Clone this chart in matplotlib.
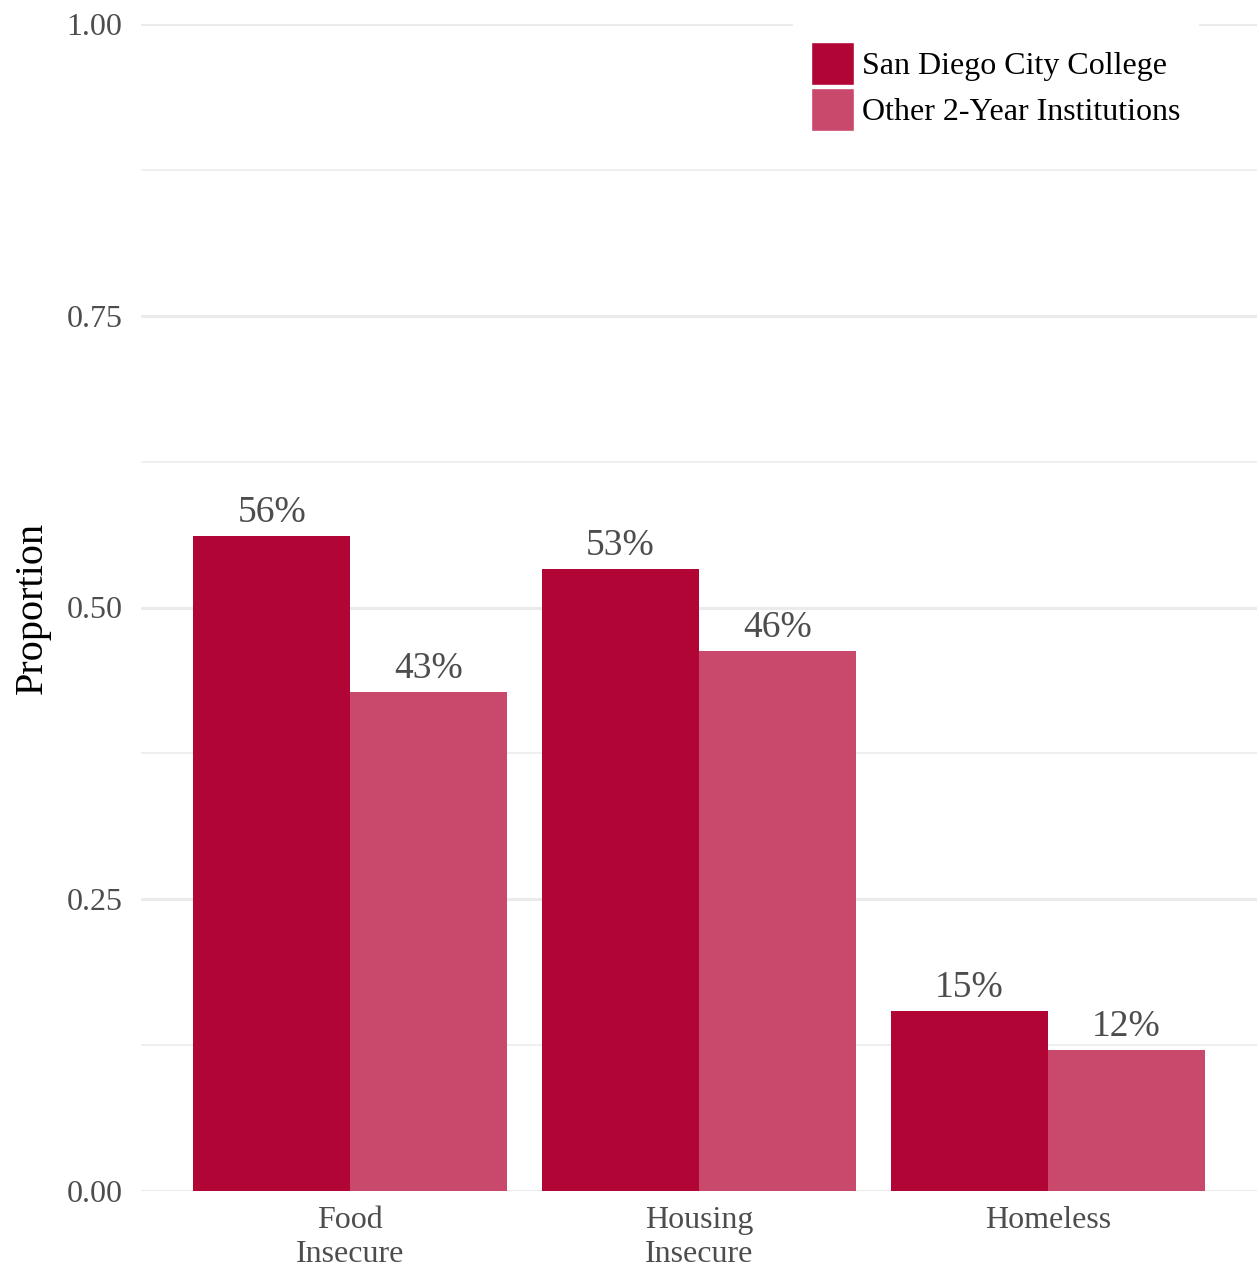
import matplotlib
matplotlib.use("Agg")
import matplotlib.pyplot as plt
import numpy as np
from matplotlib.patches import Patch

categories = ["Food\nInsecure", "Housing\nInsecure", "Homeless"]
series_names = ["San Diego City College", "Other 2-Year Institutions"]
sdcc = [0.561, 0.533, 0.154]
other = [0.428, 0.463, 0.121]
labels_sdcc = ["56%", "53%", "15%"]
labels_other = ["43%", "46%", "12%"]
yticks = [0.0, 0.25, 0.50, 0.75, 1.00]
ytick_labels = ["0.00", "0.25", "0.50", "0.75", "1.00"]

c_dark = "#B10535"
c_light = "#C8496B"
grey = "#4D4D4D"

plt.rcParams['font.family'] = ['Liberation Serif', 'DejaVu Serif']

W, H = 1257, 1270
fig = plt.figure(figsize=(W / 100, H / 100), dpi=100)
left = 141 / W
bottom = (H - 1191) / H
height = (1191 - 24) / H
ax = fig.add_axes([left, bottom, 1 - left, height])

x = np.arange(1, len(categories) + 1)
bw = 0.45
b1 = ax.bar(x - bw / 2, sdcc, width=bw, color=c_dark, zorder=2)
b2 = ax.bar(x + bw / 2, other, width=bw, color=c_light, zorder=2)

for rect, lab in zip(b1, labels_sdcc):
    ax.text(rect.get_x() + rect.get_width() / 2, rect.get_height() + 0.005, lab,
            ha='center', va='bottom', fontsize=27, color=grey, zorder=3)
for rect, lab in zip(b2, labels_other):
    ax.text(rect.get_x() + rect.get_width() / 2, rect.get_height() + 0.005, lab,
            ha='center', va='bottom', fontsize=27, color=grey, zorder=3)

ax.set_xlim(0.4, 3.6)
ax.set_ylim(0, 1.0)
ax.set_yticks(yticks)
ax.set_yticklabels(ytick_labels)
ax.set_yticks([0.125, 0.375, 0.625, 0.875], minor=True)
ax.set_xticks(x)
ax.set_xticklabels(categories)

ax.grid(axis='y', which='major', color='#EBEBEB', linewidth=2.2, zorder=0)
ax.grid(axis='y', which='minor', color='#EBEBEB', linewidth=1.1, zorder=0)
ax.set_axisbelow(True)
for s in ax.spines.values():
    s.set_visible(False)
ax.tick_params(axis='both', which='both', length=0)
ax.tick_params(axis='y', labelsize=23, labelcolor=grey, pad=13.5)
ax.tick_params(axis='x', labelsize=23, labelcolor=grey, pad=11)
for t in ax.get_xticklabels():
    t.set_linespacing(1.22)

ax.set_ylabel("Proportion", fontsize=29, color='black', labelpad=11)

handles = [Patch(facecolor=c_dark, edgecolor='white', linewidth=1),
           Patch(facecolor=c_light, edgecolor='white', linewidth=1)]
leg = ax.legend(handles, series_names, loc='upper right', bbox_to_anchor=(0.947, 1.0),
                fontsize=23, frameon=True, framealpha=1, edgecolor='white',
                facecolor='white', fancybox=False, handlelength=1.35, handleheight=1.70,
                handletextpad=0.25, labelspacing=0.09, borderpad=0.55, borderaxespad=0)
for t in leg.get_texts():
    t.set_color('black')

fig.savefig("out.png", dpi=100)
